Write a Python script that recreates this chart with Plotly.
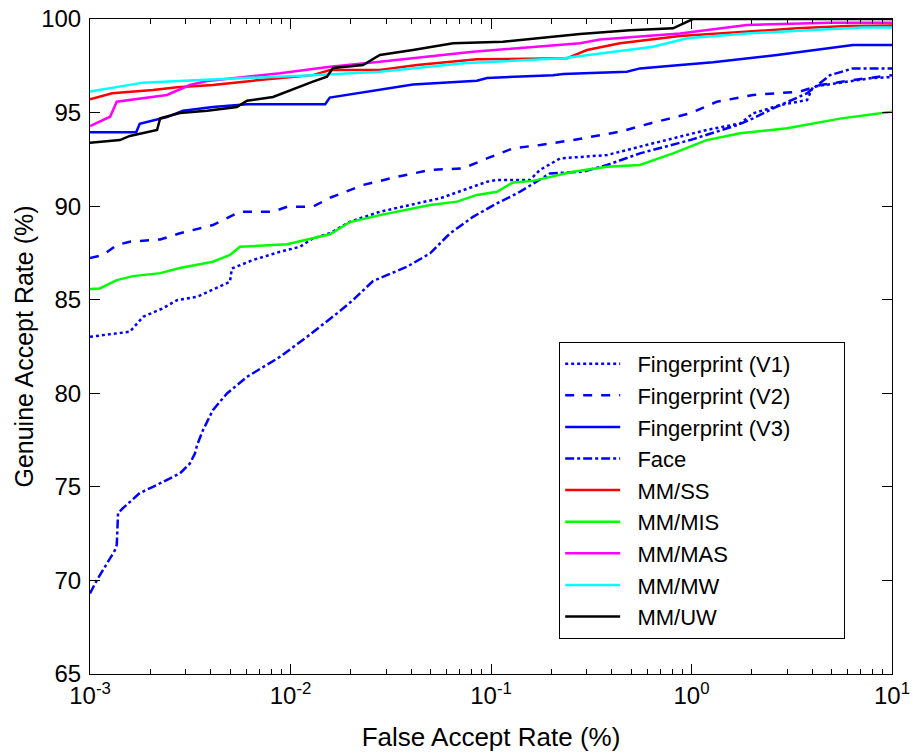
import plotly.graph_objects as go

# ---- data (FAR in %, GAR in %) ----
v1_far = [0.001, 0.00158, 0.00184, 0.00231, 0.00272, 0.00342, 0.00499, 0.0051, 0.0065, 0.00887, 0.01115,
          0.01294, 0.01574, 0.0198, 0.0279, 0.0557, 0.0955, 0.1071, 0.1567, 0.175, 0.221, 0.379, 0.553,
          0.809, 1.19, 1.75, 2.03, 2.76, 3.77, 4.04, 5.32, 7.76, 10]
v1_gar = [83.02, 83.29, 84.09, 84.54, 84.98, 85.16, 85.96, 86.67, 87.12, 87.56, 87.83,
          88.28, 88.55, 89.17, 89.7, 90.42, 91.3, 91.4, 91.4, 91.93, 92.55, 92.73, 93.18,
          93.62, 94.07, 94.42, 94.96, 95.4, 95.67, 96.38, 96.56, 96.83, 96.9]

v2_far = [0.001, 0.00116, 0.00136, 0.00158, 0.00224, 0.00281, 0.0041, 0.0056, 0.00818, 0.00962, 0.01294,
          0.01574, 0.023, 0.034, 0.0497, 0.0725, 0.0955, 0.1288, 0.176, 0.256, 0.44, 0.621, 0.984,
          1.34, 2.03, 3.48, 4.38, 6.39, 10]
v2_gar = [87.23, 87.39, 87.92, 88.1, 88.22, 88.55, 88.99, 89.7, 89.7, 89.97, 89.97,
          90.45, 91.13, 91.57, 91.93, 92.02, 92.55, 93.09, 93.27, 93.53, 93.98, 94.42, 94.96,
          95.58, 95.94, 96.12, 96.47, 96.74, 97.0]

v3_far = [0.001, 0.0017, 0.00177, 0.00242, 0.00291, 0.0041, 0.00607, 0.0149, 0.0157, 0.0249, 0.0279,
          0.0408, 0.0851, 0.0955, 0.204, 0.229, 0.476, 0.553, 0.77, 1.28, 2.67, 4.23, 6.39, 10]
v3_gar = [93.95, 93.95, 94.4, 94.76, 95.1, 95.3, 95.45, 95.45, 95.8, 96.15, 96.2,
          96.5, 96.7, 96.85, 97.0, 97.06, 97.18, 97.36, 97.49, 97.69, 98.08, 98.34, 98.61, 98.61]

face_far = [0.001, 0.00108, 0.00133, 0.00136, 0.00138, 0.00146, 0.00177, 0.00206, 0.00281, 0.00315, 0.00334,
            0.00342, 0.00366, 0.0041, 0.00482, 0.00607, 0.00887, 0.0121, 0.01706, 0.0205, 0.0258, 0.0381,
            0.0497, 0.0625, 0.0813, 0.1071, 0.1349, 0.197, 0.288, 0.379, 0.553, 0.984, 1.69, 2.03,
            2.55, 3.77, 4.91, 6.39, 10]
face_gar = [69.3, 70.0, 71.6, 71.9, 73.6, 73.86, 74.67, 75.0, 75.72, 76.25, 76.79,
            77.23, 78.03, 79.1, 79.99, 80.88, 81.95, 83.02, 84.27, 84.98, 86.0, 86.76,
            87.48, 88.55, 89.43, 90.15, 90.68, 91.75, 91.84, 92.2, 92.82, 93.53, 94.33, 94.69,
            95.22, 96.03, 97.0, 97.36, 97.36]

ss_far = [0.001, 0.00129, 0.00206, 0.00272, 0.0041, 0.0079, 0.01294, 0.01574, 0.0279, 0.0428, 0.0851,
          0.239, 0.301, 0.44, 0.877, 1.75, 3.36, 5.97, 10]
ss_gar = [95.71, 96.03, 96.2, 96.35, 96.47, 96.8, 97.0, 97.27, 97.27, 97.54, 97.85,
          97.9, 98.34, 98.7, 99.09, 99.32, 99.5, 99.63, 99.65]

mis_far = [0.001, 0.00112, 0.00136, 0.00164, 0.00224, 0.00281, 0.0041, 0.00499, 0.0056, 0.00962, 0.01574,
           0.0198, 0.0279, 0.0497, 0.0678, 0.0851, 0.1071, 0.1288, 0.1622, 0.256, 0.379, 0.553, 0.809,
           1.19, 1.75, 3.0, 5.6, 10]
mis_gar = [85.57, 85.6, 86.05, 86.26, 86.42, 86.69, 87.03, 87.39, 87.83, 87.96, 88.5,
           89.15, 89.52, 90.06, 90.24, 90.6, 90.77, 91.27, 91.35, 91.84, 92.1, 92.2, 92.82,
           93.53, 93.9, 94.16, 94.69, 95.05]

mas_far = [0.001, 0.00126, 0.00136, 0.00242, 0.00315, 0.00384, 0.00887, 0.01574, 0.0279, 0.0813, 0.278,
           0.35, 0.877, 1.89, 4.91, 10]
mas_gar = [94.28, 94.78, 95.58, 95.94, 96.47, 96.69, 97.1, 97.45, 97.72, 98.25, 98.7,
           98.91, 99.23, 99.68, 99.8, 99.8]

mw_far = [0.001, 0.00126, 0.00184, 0.00354, 0.00962, 0.01294, 0.0279, 0.0725, 0.229, 0.643, 0.951,
          1.89, 4.04, 7.16, 10]
mw_gar = [96.12, 96.3, 96.6, 96.74, 96.92, 97.0, 97.18, 97.63, 97.9, 98.52, 98.97,
          99.23, 99.41, 99.55, 99.55]

uw_far = [0.001, 0.00141, 0.00158, 0.00216, 0.00224, 0.00281, 0.00384, 0.0054, 0.00607, 0.00818, 0.01294,
          0.0152, 0.0163, 0.023, 0.0279, 0.0408, 0.0647, 0.1148, 0.278, 0.493, 0.809, 1.017, 10]
uw_gar = [93.39, 93.53, 93.75, 94.07, 94.7, 94.98, 95.1, 95.3, 95.63, 95.83, 96.65,
          96.92, 97.38, 97.54, 98.08, 98.34, 98.7, 98.79, 99.2, 99.4, 99.5, 100, 100]

series = [
    ("Fingerprint (V1)", v1_far, v1_gar, "#0000ff", "dot"),
    ("Fingerprint (V2)", v2_far, v2_gar, "#0000ff", "dash"),
    ("Fingerprint (V3)", v3_far, v3_gar, "#0000ff", "solid"),
    ("Face", face_far, face_gar, "#0000ff", "dashdot"),
    ("MM/SS", ss_far, ss_gar, "#ff0000", "solid"),
    ("MM/MIS", mis_far, mis_gar, "#00ff00", "solid"),
    ("MM/MAS", mas_far, mas_gar, "#ff00ff", "solid"),
    ("MM/MW", mw_far, mw_gar, "#00ffff", "solid"),
    ("MM/UW", uw_far, uw_gar, "#000000", "solid"),
]

x_tickvals = [0.001, 0.01, 0.1, 1, 10]
x_ticktext = ["10<sup>-3</sup>", "10<sup>-2</sup>", "10<sup>-1</sup>", "10<sup>0</sup>", "10<sup>1</sup>"]
y_tickvals = [65, 70, 75, 80, 85, 90, 95, 100]

NBSP = "\u00a0"
fig = go.Figure()
for name, xs, ys, color, dash in series:
    fig.add_trace(go.Scatter(x=xs, y=ys, mode="lines", name=NBSP * 2 + name + NBSP * 8,
                             line=dict(color=color, dash=dash, width=2.5)))

FONT = "Liberation Sans, Arial, sans-serif"
fig.update_layout(
    width=913, height=756,
    margin=dict(l=90, r=21, t=19, b=82),
    paper_bgcolor="white", plot_bgcolor="white",
    font=dict(family=FONT, size=23, color="black"),
    showlegend=True,
    legend=dict(x=0.585, y=0.507, xanchor="left", yanchor="top",
                bgcolor="white", bordercolor="black", borderwidth=1,
                font=dict(size=22, family=FONT), tracegroupgap=0, itemwidth=55),
    xaxis=dict(type="log", range=[-3, 1], tickvals=x_tickvals, ticktext=x_ticktext,
               ticks="inside", ticklen=10, tickcolor="black", showgrid=False, zeroline=False,
               showline=True, linecolor="black", linewidth=1, mirror="ticks", automargin=False,
               minor=dict(ticks="inside", ticklen=5, tickcolor="black", dtick="D1", showgrid=False),
               title=dict(text="False Accept Rate (%)", standoff=20, font=dict(size=26)),
               tickfont=dict(size=24), ticklabelstandoff=0, ticklabeloverflow="allow"),
    yaxis=dict(range=[65, 100], tickvals=y_tickvals, automargin=False,
               ticks="inside", ticklen=10, tickcolor="black", showgrid=False, zeroline=False,
               showline=True, linecolor="black", linewidth=1, mirror="ticks",
               title=dict(text="Genuine Accept Rate (%)", standoff=0, font=dict(size=25)),
               tickfont=dict(size=24), ticklabelstandoff=3, ticklabeloverflow="allow"),
)

fig.write_html("out.html", config={"displayModeBar": False},
               post_script="document.body.style.margin='0';")
